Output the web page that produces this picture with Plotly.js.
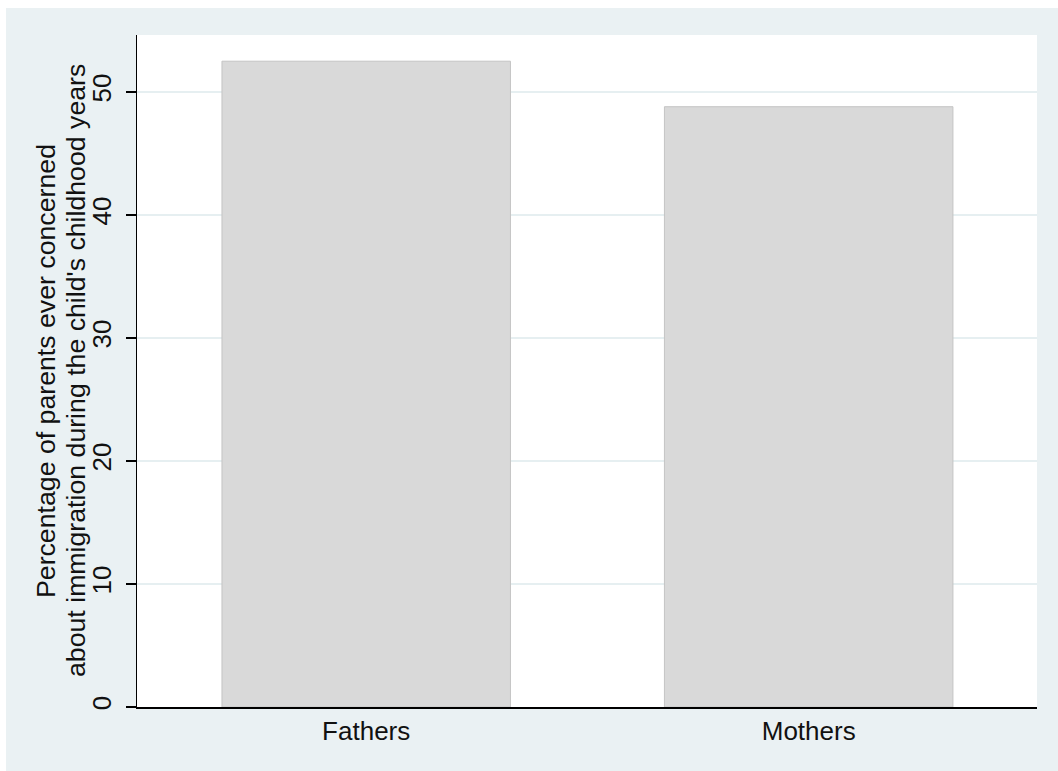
<!DOCTYPE html>
<html>
<head>
<meta charset="utf-8">
<script src="https://cdn.plot.ly/plotly-3.0.1.min.js"></script>
<style>
html,body{margin:0;padding:0;background:#ffffff;}
#chart{position:absolute;left:6px;top:8px;width:1052px;height:763px;}
</style>
</head>
<body>
<div id="chart"></div>
<script>
const categories = ["Fathers", "Mothers"];
const percentConcerned = [52.5, 48.8];
const yTickValues = [0, 10, 20, 30, 40, 50];
const yTitleLines = ["Percentage of parents ever concerned", "about immigration during the child's childhood years"];

const trace = {
  type: "bar",
  x: [0, 1],
  y: percentConcerned,
  width: 0.652,
  marker: {color: "#d9d9d9", line: {color: "#c4c4c4", width: 1}},
  hoverinfo: "x+y"
};

const titleShifts = [-91, -61];
const annotations = yTitleLines.map((t, i) => ({
  text: t,
  xref: "paper", yref: "paper",
  x: 0, y: 0.5,
  xanchor: "center", yanchor: "middle",
  xshift: titleShifts[i],
  textangle: -90,
  showarrow: false,
  font: {size: 26.7, color: "#111111"}
}));

const layout = {
  width: 1052,
  height: 763,
  margin: {l: 131, r: 21, t: 27, b: 64},
  paper_bgcolor: "#eaf1f3",
  plot_bgcolor: "#ffffff",
  showlegend: false,
  font: {family: "Liberation Sans, Arial, sans-serif", size: 26, color: "#111111"},
  annotations: annotations,
  xaxis: {
    range: [-0.518, 1.516],
    tickvals: [0, 1],
    ticktext: categories,
    showgrid: false,
    zeroline: false,
    showline: true,
    linecolor: "#000000",
    linewidth: 1.5,
    ticks: "",
    ticklabelstandoff: 0,
    tickfont: {size: 26, color: "#111111"}
  },
  yaxis: {
    range: [0, 54.63],
    tickvals: yTickValues,
    tickangle: -90,
    showgrid: true,
    gridcolor: "#e6eff1",
    gridwidth: 1.5,
    zeroline: false,
    showline: true,
    linecolor: "#000000",
    linewidth: 1.5,
    ticks: "outside",
    ticklen: 10,
    tickwidth: 1.2,
    tickcolor: "#000000",
    ticklabelstandoff: 4,
    tickfont: {size: 26, color: "#111111"}
  }
};

Plotly.newPlot("chart", [trace], layout, {displayModeBar: false, staticPlot: true});
</script>
</body>
</html>
